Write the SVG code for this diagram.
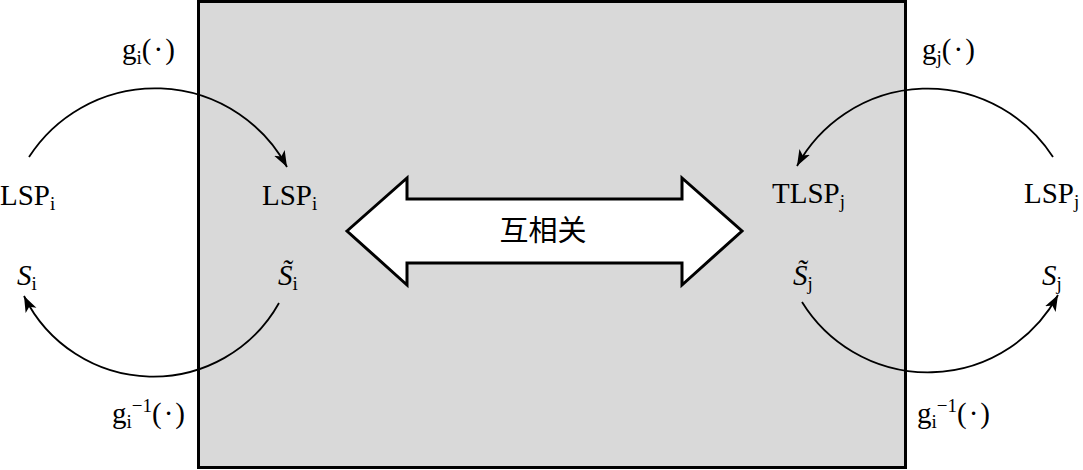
<svg xmlns="http://www.w3.org/2000/svg" width="1083" height="470" viewBox="0 0 1083 470">
<style>
.t{font-family:"Liberation Serif","Times New Roman",serif;font-size:29px;fill:#000}
.s{font-size:19px}
.it{font-style:italic}
.cn{font-family:"Liberation Serif","Noto Sans CJK SC",sans-serif;font-size:29px;fill:#000}
.arc{fill:none;stroke:#000;stroke-width:1.8}
</style>
<defs>
<marker id="ah" markerUnits="userSpaceOnUse" markerWidth="20" markerHeight="14" refX="16" refY="6" orient="auto" viewBox="0 0 20 12">
<path d="M0 0 L16 6 L0 12 L4 6 Z" fill="#000"/>
</marker>
</defs>
<rect id="box" x="198.5" y="1.5" width="707" height="466" fill="#d9d9d9" stroke="#000" stroke-width="3"/>
<g id="connectors">
<path class="arc" d="M29 157 A150 150 0 0 1 287 167" marker-end="url(#ah)"/>
<path class="arc" d="M279 303 A144 144 0 0 1 24 296" marker-end="url(#ah)"/>
<path class="arc" d="M1053 157 A149 149 0 0 0 797 166" marker-end="url(#ah)"/>
<path class="arc" d="M802 302 A148 148 0 0 0 1058 295" marker-end="url(#ah)"/>
</g>
<g id="corr">
<polygon points="347,231 407,178 407,199 682,199 682,178 742,231 682,285 682,263 407,263 407,285" fill="#fff" stroke="#000" stroke-width="3" stroke-linejoin="miter"/>
<text class="cn" x="543" y="241" text-anchor="middle">互相关</text>
</g>
<g id="lsp-i-left"><text class="t" x="0" y="205">LSP<tspan class="s" dy="5">i</tspan></text></g>
<g id="s-i-left"><text class="t it" x="17" y="285">S<tspan class="s" font-style="normal" dy="5">i</tspan></text></g>
<g id="lsp-i-in"><text class="t" x="262" y="205">LSP<tspan class="s" dy="5">i</tspan></text></g>
<g id="st-i"><text class="t it" x="278" y="285">S&#x303;<tspan class="s" font-style="normal" dy="5">i</tspan></text></g>
<g id="tlsp-j"><text class="t" x="772" y="203">TLSP<tspan class="s" dy="5">j</tspan></text></g>
<g id="st-j"><text class="t it" x="793" y="285">S&#x303;<tspan class="s" font-style="normal" dy="5">j</tspan></text></g>
<g id="lsp-j-right"><text class="t" x="1024" y="203">LSP<tspan class="s" dy="5">j</tspan></text></g>
<g id="s-j-right"><text class="t it" x="1042" y="285">S<tspan class="s" font-style="normal" dy="5">j</tspan></text></g>
<g id="g-i"><text class="t" x="122" y="59">g<tspan class="s" dy="5">i</tspan><tspan dy="-5">(</tspan><tspan dx="2">·</tspan><tspan dx="2">)</tspan></text></g>
<g id="g-j"><text class="t" x="922" y="59">g<tspan class="s" dy="5">j</tspan><tspan dy="-5">(</tspan><tspan dx="2">·</tspan><tspan dx="2">)</tspan></text></g>
<g id="g-i-inv-left"><text class="t" x="112" y="423">g<tspan class="s" dy="5">i</tspan><tspan class="s" dx="0" dy="-16">−1</tspan><tspan dy="11">(</tspan><tspan dx="2">·</tspan><tspan dx="2">)</tspan></text></g>
<g id="g-i-inv-right"><text class="t" x="917" y="423">g<tspan class="s" dy="5">i</tspan><tspan class="s" dx="0" dy="-16">−1</tspan><tspan dy="11">(</tspan><tspan dx="2">·</tspan><tspan dx="2">)</tspan></text></g>
</svg>
